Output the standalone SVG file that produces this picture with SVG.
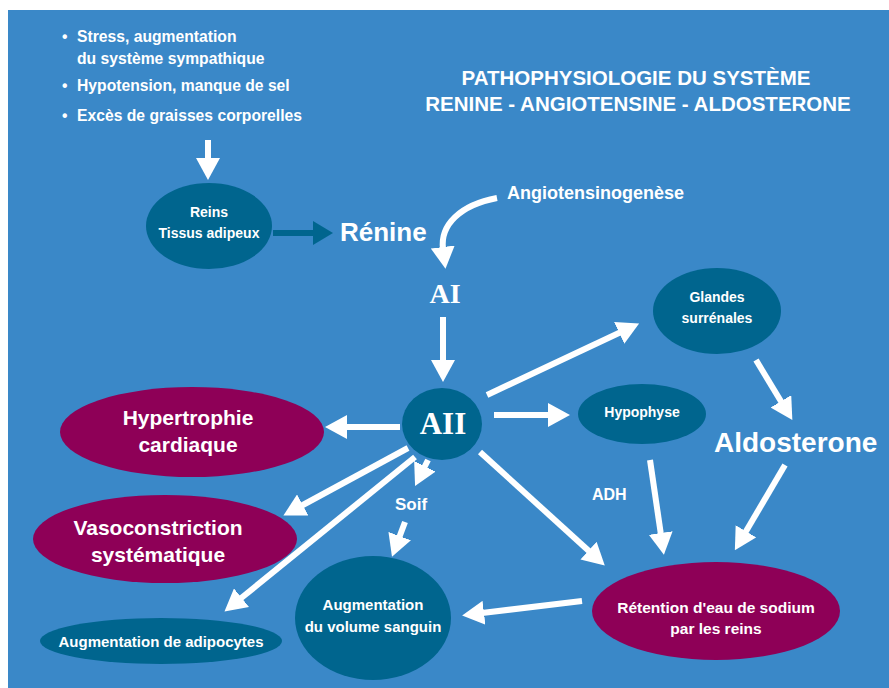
<svg xmlns="http://www.w3.org/2000/svg" width="889" height="688" viewBox="0 0 889 688">
<style>
.t{font-family:"Liberation Sans",Arial,sans-serif;font-weight:bold;fill:#fff}
.s{font-family:"Liberation Serif","Times New Roman",serif;font-weight:bold;fill:#fff}
.teal{fill:#00658E}
.plum{fill:#8E0057}
.a{stroke:#fff;stroke-width:6;fill:none;marker-end:url(#h)}
</style>
<defs>
<marker id="h" markerUnits="userSpaceOnUse" markerWidth="22" markerHeight="24" refX="2" refY="12" orient="auto" viewBox="0 0 22 24">
<path d="M0,0 L22,12 L0,24 Z" fill="#fff"/>
</marker>
<marker id="hd" markerUnits="userSpaceOnUse" markerWidth="20" markerHeight="24" refX="2" refY="12" orient="auto" viewBox="0 0 20 24">
<path d="M0,0 L20,12 L0,24 Z" fill="#00658E"/>
</marker>
</defs>
<rect x="0" y="0" width="889" height="688" fill="#fff"/>
<rect x="8" y="10" width="881" height="678" fill="#3A88C8"/>

<g id="intro" class="t" font-size="15.7">
<text x="62" y="42">•</text><text x="77" y="42">Stress, augmentation</text>
<text x="77" y="64">du système sympathique</text>
<text x="62" y="91">•</text><text x="77" y="91">Hypotension, manque de sel</text>
<text x="62" y="121">•</text><text x="77" y="121">Excès de graisses corporelles</text>
</g>

<g id="title" class="t" font-size="20.5" text-anchor="middle">
<text x="636" y="85">PATHOPHYSIOLOGIE DU SYSTÈME</text>
<text x="638" y="111">RENINE - ANGIOTENSINE - ALDOSTERONE</text>
</g>

<g id="connectors">
<path class="a" d="M208,140 L208,160"/>
<path d="M273,233 L315,233" stroke="#00658E" stroke-width="6" fill="none" marker-end="url(#hd)"/>
<path class="a" d="M497,198 C460,205 440,225 443,249"/>
<path class="a" d="M443,317 L443,362"/>
<path class="a" d="M487,395 L621,332"/>
<path class="a" d="M756,360 L782,403"/>
<path class="a" d="M494,415 L550,415"/>
<path class="a" d="M650,460 L661,535"/>
<path class="a" d="M785,465 L745,533"/>
<path class="a" d="M480,452 L590,552"/>
<path class="a" d="M582,601 L482,613"/>
<path class="a" d="M428,460 L424,468"/>
<path class="a" d="M405,522 L399,538"/>
<path class="a" d="M400,427 L345,427"/>
<path class="a" d="M408,448 L301,506"/>
<path class="a" d="M415,457 L240,599"/>
</g>

<g id="reins">
<ellipse class="teal" cx="209" cy="226" rx="63" ry="43"/>
<text class="t" font-size="14" text-anchor="middle" x="209" y="217">Reins</text>
<text class="t" font-size="14" text-anchor="middle" x="209" y="238">Tissus adipeux</text>
</g>

<g id="renine"><text class="t" font-size="26" x="340" y="241">Rénine</text></g>
<g id="angiotensinogenese"><text class="t" font-size="18" x="507" y="199">Angiotensinogenèse</text></g>
<g id="ai"><text class="s" font-size="28" text-anchor="middle" x="445" y="303">AI</text></g>

<g id="aii">
<ellipse class="teal" cx="442" cy="424" rx="40" ry="36"/>
<text class="s" font-size="31" text-anchor="middle" x="443" y="434">AII</text>
</g>

<g id="glandes">
<ellipse class="teal" cx="717" cy="311" rx="64" ry="43"/>
<text class="t" font-size="14" text-anchor="middle" x="717" y="302" font-weight="normal">Glandes</text>
<text class="t" font-size="14" text-anchor="middle" x="717" y="323" font-weight="normal">surrénales</text>
</g>

<g id="hypophyse">
<ellipse class="teal" cx="642" cy="414" rx="64" ry="30"/>
<text class="t" font-size="14" text-anchor="middle" x="642" y="417" font-weight="normal">Hypophyse</text>
</g>

<g id="aldosterone"><text class="t" font-size="28" x="714" y="452">Aldosterone</text></g>
<g id="adh"><text class="t" font-size="16" x="592" y="500" font-weight="normal">ADH</text></g>
<g id="soif"><text class="t" font-size="17" x="395" y="510" font-weight="normal">Soif</text></g>

<g id="retention">
<ellipse class="plum" cx="716" cy="611" rx="124" ry="49"/>
<text class="t" font-size="15.5" text-anchor="middle" x="716" y="613">Rétention d'eau de sodium</text>
<text class="t" font-size="15.5" text-anchor="middle" x="716" y="634">par les reins</text>
</g>

<g id="volume">
<ellipse class="teal" cx="373" cy="618" rx="78" ry="62"/>
<text class="t" font-size="15" text-anchor="middle" x="373" y="610">Augmentation</text>
<text class="t" font-size="15" text-anchor="middle" x="373" y="632">du volume sanguin</text>
</g>

<g id="hypertrophie">
<ellipse class="plum" cx="192" cy="432" rx="132" ry="45"/>
<text class="t" font-size="21" text-anchor="middle" x="188" y="425">Hypertrophie</text>
<text class="t" font-size="21" text-anchor="middle" x="188" y="452">cardiaque</text>
</g>

<g id="vasoconstriction">
<ellipse class="plum" cx="165" cy="539" rx="132" ry="44"/>
<text class="t" font-size="21" text-anchor="middle" x="158" y="535">Vasoconstriction</text>
<text class="t" font-size="21" text-anchor="middle" x="158" y="562">systématique</text>
</g>

<g id="adipocytes">
<ellipse class="teal" cx="161" cy="641" rx="121" ry="23"/>
<text class="t" font-size="15" text-anchor="middle" x="161" y="647">Augmentation de adipocytes</text>
</g>
</svg>
